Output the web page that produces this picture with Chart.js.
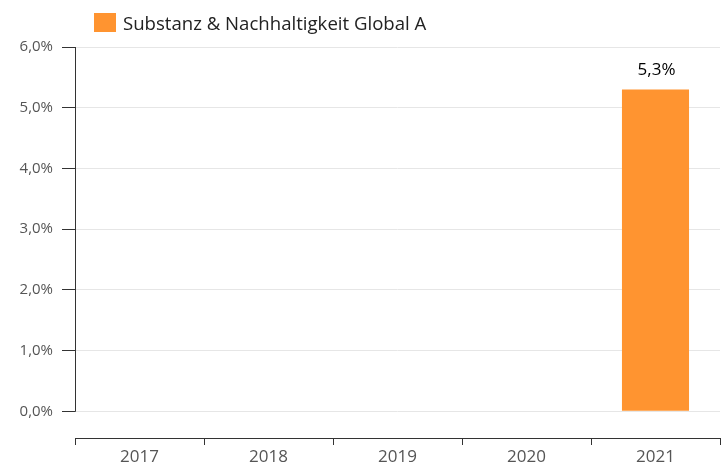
<!DOCTYPE html>
<html>
<head>
<meta charset="utf-8">
<script src="https://cdn.jsdelivr.net/npm/chart.js@4"></script>
<style>
  html, body { margin: 0; padding: 0; background: #fff; }
  #wrap { position: relative; width: 721px; height: 466px; }
  #legend {
    position: absolute; left: 94px; top: 10px;
    font-family: "Open Sans", sans-serif; font-size: 18.6px; color: #222;
    display: flex; align-items: center; white-space: nowrap;
  }
  #legend .box { width: 22px; height: 19px; background: #ff9430; margin-right: 7px; }
</style>
</head>
<body>
<div id="wrap">
  <div id="legend"><span class="box"></span><span>Substanz &amp; Nachhaltigkeit Global A</span></div>
  <canvas id="chart"></canvas>
</div>
<script>
// Daten
const categories = ["2017", "2018", "2019", "2020", "2021"];
const fundValues = [null, null, null, null, 5.3];
const yTicks = [0, 1, 2, 3, 4, 5, 6];
const seriesName = "Substanz & Nachhaltigkeit Global A";

const fmt = (v) => v.toFixed(1).replace(".", ",") + "%";

// y-Achsenlinie nur von 0 bis 6 (x-Achse sitzt etwas tiefer)
const yAxisLine = {
  id: "yAxisLine",
  afterDraw(chart) {
    const { ctx, chartArea, scales } = chart;
    const x = Math.round(chartArea.left) + 0.5;
    ctx.save();
    ctx.strokeStyle = "#333333";
    ctx.lineWidth = 1;
    ctx.beginPath();
    ctx.moveTo(x, scales.y.getPixelForValue(yTicks[yTicks.length - 1]));
    ctx.lineTo(x, scales.y.getPixelForValue(0) + 0.5);
    ctx.stroke();
    ctx.restore();
  },
};

// Wertbeschriftung über den Balken
const barLabels = {
  id: "barLabels",
  afterDatasetsDraw(chart) {
    const { ctx } = chart;
    const meta = chart.getDatasetMeta(0);
    ctx.save();
    ctx.font = "17px 'Open Sans', sans-serif";
    ctx.fillStyle = "#000000";
    ctx.textAlign = "center";
    ctx.textBaseline = "middle";
    meta.data.forEach((bar, i) => {
      const v = fundValues[i];
      if (v === null || v === undefined) return;
      ctx.fillText(fmt(v), bar.x + 1, bar.y - 19);
    });
    ctx.restore();
  },
};

new Chart(document.getElementById("chart"), {
  type: "bar",
  data: {
    labels: categories,
    datasets: [
      {
        label: seriesName,
        data: fundValues,
        backgroundColor: "#ff9430",
        categoryPercentage: 1,
        barPercentage: 0.52,
      },
    ],
  },
  options: {
    responsive: true,
    maintainAspectRatio: false,
    animation: false,
    layout: { padding: { top: 47, right: 1, left: 0, bottom: 0 } },
    plugins: {
      legend: { display: false },
      tooltip: { enabled: false },
    },
    scales: {
      x: {
        offset: true,
        border: { display: true, color: "#333333" },
        grid: {
          display: true,
          drawOnChartArea: false,
          drawTicks: true,
          tickLength: 7,
          tickColor: "#333333",
          offset: true,
        },
        ticks: {
          color: "#555555",
          font: { family: "'Open Sans', sans-serif", size: 17 },
          padding: 2,
        },
        afterFit(scale) { scale.height = 28; },
      },
      y: {
        min: -0.44,
        max: 6,
        border: { display: false },
        grid: {
          color: "#e6e6e6",
          tickColor: "#333333",
          tickLength: 13,
        },
        afterBuildTicks(scale) {
          scale.ticks = yTicks.map((v) => ({ value: v }));
        },
        ticks: {
          color: "#555555",
          font: { family: "'Open Sans', sans-serif", size: 15 },
          padding: 9,
          callback: (v) => fmt(v),
        },
        afterFit(scale) { scale.width = 75; },
      },
    },
  },
  plugins: [yAxisLine, barLabels],
});
</script>
</body>
</html>
